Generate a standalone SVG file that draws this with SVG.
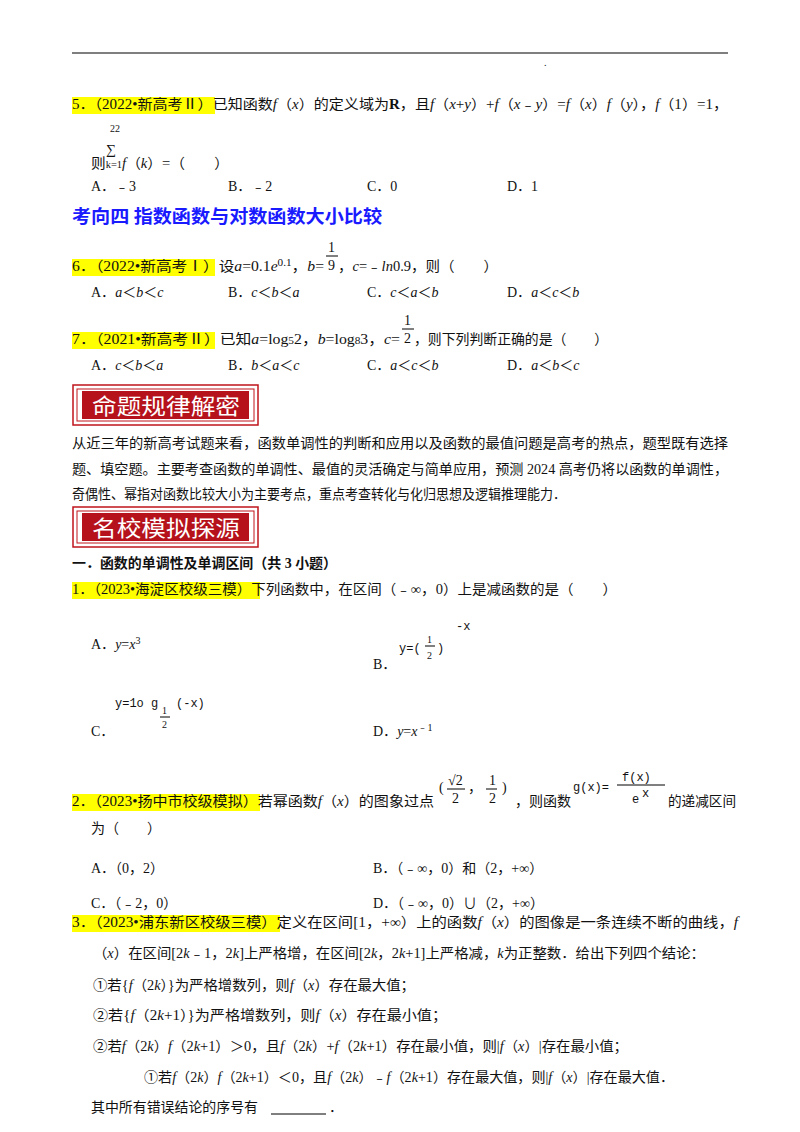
<svg xmlns="http://www.w3.org/2000/svg" width="800" height="1132" viewBox="0 0 800 1132">
<style>
text{font-family:"Liberation Serif","Noto Sans CJK SC",serif;font-size:14px;fill:#111}
.hl{fill:#ffff00}
.i{font-style:italic}
.b{font-weight:bold}
.sm{font-size:10px}
.h{fill:#1a1aff;font-size:18px;font-weight:bold;font-family:"Noto Sans CJK SC",sans-serif}
.ban{fill:#fff;font-size:22px;font-family:"Noto Sans CJK SC",sans-serif}
.m{font-family:"Liberation Mono","Noto Sans CJK SC",monospace;font-size:12px}
</style>
<rect width="800" height="1132" fill="#fff"/>
<line x1="72" y1="53" x2="728" y2="53" stroke="#000" stroke-width="1.2"/>
<text x="544" y="66" class="sm">.</text>
<!-- Q5 -->
<rect class="hl" x="72" y="97" width="143" height="17"/>
<text x="72" y="109" textLength="656" lengthAdjust="spacingAndGlyphs">5．（2022•新高考Ⅱ）已知函数<tspan class="i">f</tspan>（<tspan class="i">x</tspan>）的定义域为<tspan class="b">R</tspan>，且<tspan class="i">f</tspan>（<tspan class="i">x</tspan>+<tspan class="i">y</tspan>）+<tspan class="i">f</tspan>（<tspan class="i">x</tspan>﹣<tspan class="i">y</tspan>）=<tspan class="i">f</tspan>（<tspan class="i">x</tspan>）<tspan class="i">f</tspan>（<tspan class="i">y</tspan>），<tspan class="i">f</tspan>（1）=1，</text>
<text x="110" y="132" class="sm">22</text>
<text x="106" y="154" font-size="16">∑</text>
<text x="91" y="168" textLength="138" lengthAdjust="spacingAndGlyphs">则<tspan class="sm">k=1</tspan><tspan class="i">f</tspan>（<tspan class="i">k</tspan>）=（　　）</text>
<text x="91" y="191">A．﹣3</text><text x="228" y="191">B．﹣2</text><text x="367" y="191">C．0</text><text x="507" y="191">D．1</text>
<text x="72" y="223" class="h" textLength="310" lengthAdjust="spacingAndGlyphs">考向四  指数函数与对数函数大小比较</text>
<!-- Q6 -->
<rect class="hl" x="72" y="259" width="143" height="17"/>
<text x="72" y="271" textLength="252" lengthAdjust="spacingAndGlyphs">6．（2022•新高考Ⅰ）设<tspan class="i">a</tspan>=0.1<tspan class="i">e</tspan><tspan class="sm" dy="-5">0.1</tspan><tspan dy="5">，</tspan><tspan class="i">b</tspan>=</text>
<text x="328" y="252" font-size="15">1</text><line x1="326" y1="256" x2="338" y2="256" stroke="#000"/>
<text x="328" y="270">9</text>
<text x="338" y="271" textLength="160" lengthAdjust="spacingAndGlyphs">，<tspan class="i">c</tspan>=﹣<tspan class="i">ln</tspan>0.9，则（　　）</text>
<text x="91" y="297">A．<tspan class="i">a</tspan>＜<tspan class="i">b</tspan>＜<tspan class="i">c</tspan></text>
<text x="228" y="297">B．<tspan class="i">c</tspan>＜<tspan class="i">b</tspan>＜<tspan class="i">a</tspan></text>
<text x="367" y="297">C．<tspan class="i">c</tspan>＜<tspan class="i">a</tspan>＜<tspan class="i">b</tspan></text>
<text x="507" y="297">D．<tspan class="i">a</tspan>＜<tspan class="i">c</tspan>＜<tspan class="i">b</tspan></text>
<!-- Q7 -->
<rect class="hl" x="72" y="332" width="143" height="17"/>
<text x="72" y="344" textLength="328" lengthAdjust="spacingAndGlyphs">7．（2021•新高考Ⅱ）已知<tspan class="i">a</tspan>=log<tspan class="sm">5</tspan>2，<tspan class="i">b</tspan>=log<tspan class="sm">8</tspan>3，<tspan class="i">c</tspan>=</text>
<text x="404" y="325" font-size="15">1</text><line x1="402" y1="329" x2="414" y2="329" stroke="#000"/>
<text x="404" y="343">2</text>
<text x="414" y="344" textLength="194" lengthAdjust="spacingAndGlyphs">，则下列判断正确的是（　　）</text>
<text x="91" y="370">A．<tspan class="i">c</tspan>＜<tspan class="i">b</tspan>＜<tspan class="i">a</tspan></text>
<text x="228" y="370">B．<tspan class="i">b</tspan>＜<tspan class="i">a</tspan>＜<tspan class="i">c</tspan></text>
<text x="367" y="370">C．<tspan class="i">a</tspan>＜<tspan class="i">c</tspan>＜<tspan class="i">b</tspan></text>
<text x="507" y="370">D．<tspan class="i">a</tspan>＜<tspan class="i">b</tspan>＜<tspan class="i">c</tspan></text>
<!-- banner 1 -->
<g id="banner1">
<rect x="73" y="385" width="185" height="40" fill="none" stroke="#c0141c" stroke-width="1.5"/>
<rect x="77" y="389" width="177" height="32" fill="none" stroke="#c0141c" stroke-width="1"/>
<rect x="82" y="391" width="167" height="28" fill="#b5121b"/>
<text x="92" y="414" class="ban" textLength="148" lengthAdjust="spacingAndGlyphs">命题规律解密</text>
</g>
<text x="72" y="448" textLength="656" lengthAdjust="spacingAndGlyphs">从近三年的新高考试题来看，函数单调性的判断和应用以及函数的最值问题是高考的热点，题型既有选择</text>
<text x="72" y="474" textLength="656" lengthAdjust="spacingAndGlyphs">题、填空题。主要考查函数的单调性、最值的灵活确定与简单应用，预测 2024 高考仍将以函数的单调性，</text>
<text x="72" y="499" textLength="494" lengthAdjust="spacingAndGlyphs">奇偶性、幂指对函数比较大小为主要考点，重点考查转化与化归思想及逻辑推理能力．</text>
<g id="banner2">
<rect x="73" y="507" width="185" height="40" fill="none" stroke="#c0141c" stroke-width="1.5"/>
<rect x="77" y="511" width="177" height="32" fill="none" stroke="#c0141c" stroke-width="1"/>
<rect x="82" y="513" width="167" height="28" fill="#b5121b"/>
<text x="92" y="536" class="ban" textLength="148" lengthAdjust="spacingAndGlyphs">名校模拟探源</text>
</g>
<text x="72" y="568" class="b" textLength="265" lengthAdjust="spacingAndGlyphs">一．函数的单调性及单调区间（共 3 小题）</text>
<!-- Q1 -->
<rect class="hl" x="72" y="582" width="188" height="17"/>
<text x="72" y="594" textLength="545" lengthAdjust="spacingAndGlyphs">1．（2023•海淀区校级三模）下列函数中，在区间（﹣∞，0）上是减函数的是（　　）</text>
<text x="91" y="649">A．<tspan class="i">y</tspan>=<tspan class="i">x</tspan><tspan class="sm" dy="-5">3</tspan></text>
<text x="373" y="669">B．</text>
<text x="399" y="652" class="m">y=(</text>
<text x="427" y="643" class="sm">1</text><line x1="425" y1="646" x2="435" y2="646" stroke="#000"/>
<text x="427" y="659" class="sm">2</text>
<text x="437" y="652" class="m">)</text>
<text x="456" y="630" class="m" font-size="10">-x</text>
<text x="115" y="707" class="m">y=1o g</text>
<text x="162" y="714" class="sm">1</text><line x1="160" y1="717" x2="170" y2="717" stroke="#000"/>
<text x="162" y="728" class="sm">2</text>
<text x="176" y="707" class="m">(-x)</text>
<text x="91" y="736">C．</text>
<text x="373" y="736">D．<tspan class="i">y</tspan>=<tspan class="i">x</tspan><tspan class="sm" dy="-5">﹣1</tspan></text>
<!-- Q2 -->
<rect class="hl" x="72" y="794" width="188" height="17"/>
<text x="72" y="806" textLength="362" lengthAdjust="spacingAndGlyphs">2．（2023•扬中市校级模拟）若幂函数<tspan class="i">f</tspan>（<tspan class="i">x</tspan>）的图象过点</text>
<text x="439" y="792">(</text>
<text x="448" y="785" font-size="12">√2</text><line x1="447" y1="789" x2="465" y2="789" stroke="#000"/>
<text x="452" y="803" font-size="12">2</text>
<text x="468" y="792">，</text>
<text x="489" y="785" font-size="12">1</text><line x1="486" y1="789" x2="497" y2="789" stroke="#000"/>
<text x="489" y="803" font-size="12">2</text>
<text x="502" y="792">)</text>
<text x="515" y="806">，则函数</text>
<text x="573" y="791" class="m">g(x)=</text>
<text x="622" y="781" class="m" font-size="11">f(x)</text><line x1="617" y1="785" x2="665" y2="785" stroke="#000"/>
<text x="632" y="803" class="m" font-size="11">e</text><text x="642" y="797" class="m" font-size="9">x</text>
<text x="668" y="806" textLength="68" lengthAdjust="spacingAndGlyphs">的递减区间</text>
<text x="91" y="833">为（　　）</text>
<text x="91" y="873">A．（0，2）</text>
<text x="373" y="873">B．（﹣∞，0）和（2，+∞）</text>
<text x="91" y="908">C．（﹣2，0）</text>
<text x="373" y="908">D．（﹣∞，0）∪（2，+∞）</text>
<!-- Q3 -->
<rect class="hl" x="72" y="915" width="208" height="17"/>
<text x="72" y="927" textLength="666" lengthAdjust="spacingAndGlyphs">3．（2023•浦东新区校级三模）定义在区间[1，+∞）上的函数<tspan class="i">f</tspan>（<tspan class="i">x</tspan>）的图像是一条连续不断的曲线，<tspan class="i">f</tspan></text>
<text x="93" y="958" textLength="612" lengthAdjust="spacingAndGlyphs">（<tspan class="i">x</tspan>）在区间[2<tspan class="i">k</tspan>﹣1，2<tspan class="i">k</tspan>]上严格增，在区间[2<tspan class="i">k</tspan>，2<tspan class="i">k</tspan>+1]上严格减，<tspan class="i">k</tspan>为正整数．给出下列四个结论：</text>
<text x="93" y="990" textLength="322" lengthAdjust="spacingAndGlyphs">①若{<tspan class="i">f</tspan>（2<tspan class="i">k</tspan>）}为严格增数列，则<tspan class="i">f</tspan>（<tspan class="i">x</tspan>）存在最大值；</text>
<text x="93" y="1020" textLength="354" lengthAdjust="spacingAndGlyphs">②若{<tspan class="i">f</tspan>（2<tspan class="i">k</tspan>+1）}为严格增数列，则<tspan class="i">f</tspan>（<tspan class="i">x</tspan>）存在最小值；</text>
<text x="93" y="1051" textLength="535" lengthAdjust="spacingAndGlyphs">②若<tspan class="i">f</tspan>（2<tspan class="i">k</tspan>）<tspan class="i">f</tspan>（2<tspan class="i">k</tspan>+1）＞0，且<tspan class="i">f</tspan>（2<tspan class="i">k</tspan>）+<tspan class="i">f</tspan>（2<tspan class="i">k</tspan>+1）存在最小值，则|<tspan class="i">f</tspan>（<tspan class="i">x</tspan>）|存在最小值；</text>
<text x="144" y="1082" textLength="530" lengthAdjust="spacingAndGlyphs">①若<tspan class="i">f</tspan>（2<tspan class="i">k</tspan>）<tspan class="i">f</tspan>（2<tspan class="i">k</tspan>+1）＜0，且<tspan class="i">f</tspan>（2<tspan class="i">k</tspan>）﹣<tspan class="i">f</tspan>（2<tspan class="i">k</tspan>+1）存在最大值，则|<tspan class="i">f</tspan>（<tspan class="i">x</tspan>）|存在最大值．</text>
<text x="91" y="1112" textLength="167" lengthAdjust="spacingAndGlyphs">其中所有错误结论的序号有</text>
<line x1="271" y1="1114" x2="326" y2="1114" stroke="#000"/>
<text x="329" y="1112">．</text>
</svg>
